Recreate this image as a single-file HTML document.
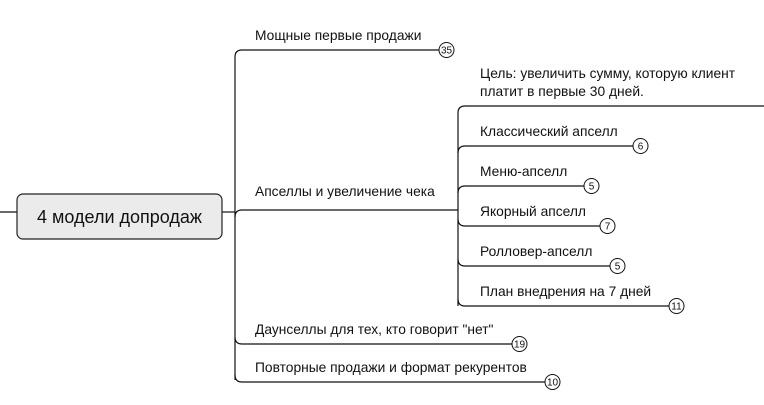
<!DOCTYPE html>
<html><head><meta charset="utf-8"><style>
html,body{margin:0;padding:0;background:#fff;width:764px;height:405px;overflow:hidden}
svg{display:block}
text{font-family:"Liberation Sans",sans-serif;fill:#111}
</style></head><body>
<svg width="764" height="405" viewBox="0 0 764 405" xmlns="http://www.w3.org/2000/svg">
<g fill="none" stroke="#111" stroke-width="1.2">
<path d="M0 212 H17"/>
<path d="M222 212 H235"/>
<path d="M235 380 V57 Q235 50 242 50 H439"/>
<path d="M235 217 Q235 210 242 210 H458"/>
<path d="M235 337 Q235 344 242 344 H512"/>
<path d="M235 375 Q235 382 242 382 H545"/>
<path d="M458 306 V113 Q458 106 465 106 H764"/>
<path d="M458 153 Q458 146 465 146 H633"/>
<path d="M458 193 Q458 186 465 186 H584"/>
<path d="M458 219 Q458 226 465 226 H600"/>
<path d="M458 259 Q458 266 465 266 H610"/>
<path d="M458 299 Q458 306 465 306 H669"/>
</g>
<rect x="17" y="194" width="205" height="45" rx="6" fill="#ebebeb" stroke="#222" stroke-width="1.2"/>
<text x="119.5" y="223" font-size="18" text-anchor="middle">4 модели допродаж</text>
<g font-size="13.8">
<text x="255" y="40">Мощные первые продажи</text>
<text x="255" y="196">Апселлы и увеличение чека</text>
<text x="255" y="334">Даунселлы для тех, кто говорит "нет"</text>
<text x="255" y="372">Повторные продажи и формат рекурентов</text>
<text x="480" y="78">Цель: увеличить сумму, которую клиент</text>
<text x="480" y="96">платит в первые 30 дней.</text>
<text x="480" y="136">Классический апселл</text>
<text x="480" y="176">Меню-апселл</text>
<text x="480" y="216">Якорный апселл</text>
<text x="480" y="256">Ролловер-апселл</text>
<text x="480" y="296">План внедрения на 7 дней</text>
</g>
<g fill="#fff" stroke="#111" stroke-width="1">
<circle cx="446.5" cy="50" r="7.5"/>
<circle cx="640.5" cy="146" r="7.5"/>
<circle cx="591.5" cy="186" r="7.5"/>
<circle cx="607.5" cy="226" r="7.5"/>
<circle cx="617.5" cy="266" r="7.5"/>
<circle cx="676.5" cy="306" r="7.5"/>
<circle cx="519.5" cy="344" r="7.5"/>
<circle cx="552.5" cy="382" r="7.5"/>
</g>
<g font-size="10" text-anchor="middle">
<text x="446.5" y="53.5">35</text>
<text x="640.5" y="149.5">6</text>
<text x="591.5" y="189.5">5</text>
<text x="607.5" y="229.5">7</text>
<text x="617.5" y="269.5">5</text>
<text x="676.5" y="309.5">11</text>
<text x="519.5" y="347.5">19</text>
<text x="552.5" y="385.5">10</text>
</g>
</svg>
</body></html>
